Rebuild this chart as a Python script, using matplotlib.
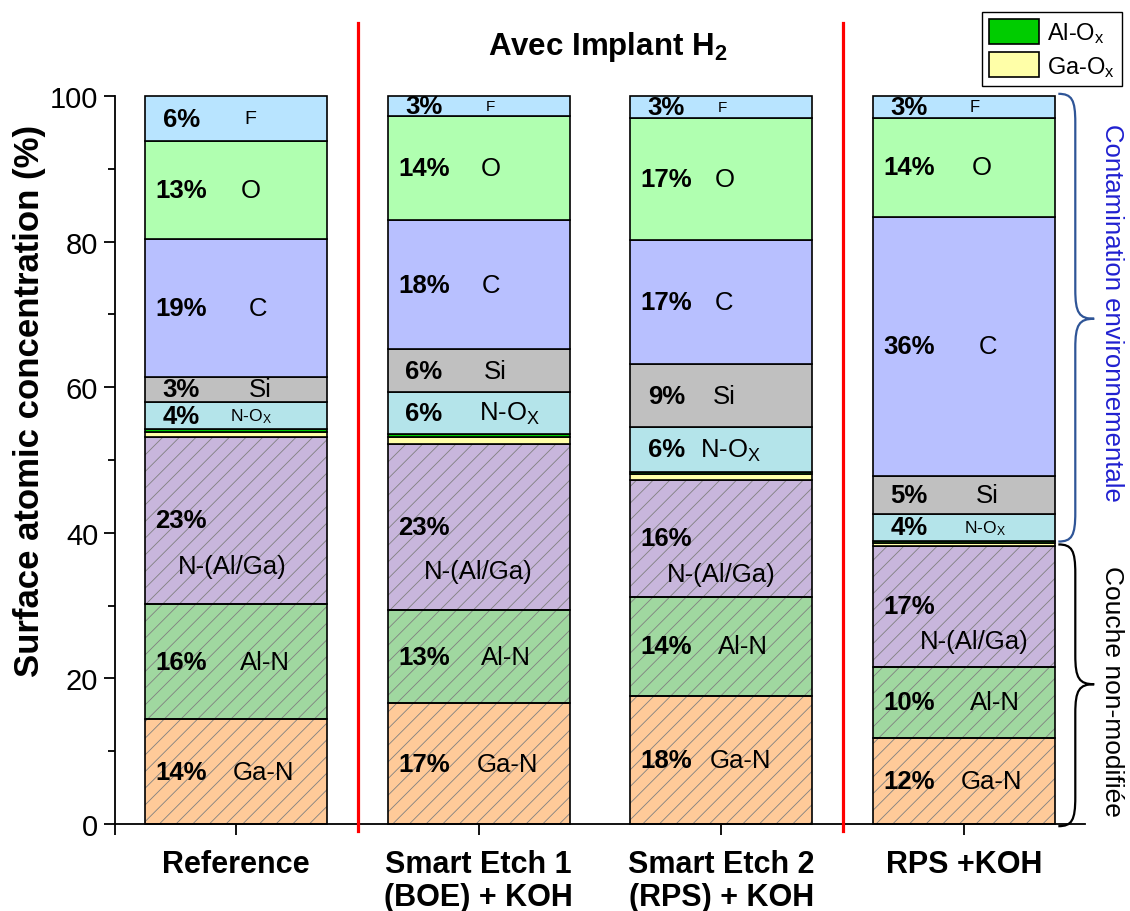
import matplotlib
matplotlib.use('Agg')
import matplotlib.pyplot as plt
from matplotlib.patches import Patch, PathPatch
from matplotlib.path import Path
from matplotlib.transforms import offset_copy

plt.rcParams['font.family'] = ['Liberation Sans', 'DejaVu Sans']
plt.rcParams['mathtext.fontset'] = 'custom'
plt.rcParams['mathtext.rm'] = 'Liberation Sans'
plt.rcParams['mathtext.bf'] = 'Liberation Sans:bold'
plt.rcParams['mathtext.it'] = 'Liberation Sans:italic'
plt.rcParams['hatch.linewidth'] = 0.6
plt.rcParams['hatch.color'] = '#808080'

# ---- data: XPS surface composition (%) ----
samples = ['Reference', 'Smart Etch 1\n(BOE) + KOH', 'Smart Etch 2\n(RPS) + KOH', 'RPS +KOH']

ga_n = [14.4, 16.6, 17.6, 11.8]
al_n = [15.8, 12.8, 13.6, 9.8]
n_alga = [23.0, 22.8, 16.1, 16.6]
ga_ox = [0.6, 1.0, 0.8, 0.4]
al_ox = [0.4, 0.4, 0.3, 0.3]
n_ox = [3.8, 5.7, 6.1, 3.7]
si = [3.4, 5.9, 8.7, 5.2]
carbon = [19.0, 17.8, 17.0, 35.6]
oxygen = [13.4, 14.3, 16.8, 13.6]
fluorine = [6.2, 2.7, 3.0, 3.0]

# stacking order, bottom to top
layers = [
    ('Ga-N', ga_n, '#FFCA99', True, 'Ga-N'),
    ('Al-N', al_n, '#A0D8A0', True, 'Al-N'),
    ('N-(Al/Ga)', n_alga, '#C8B6DC', True, 'N-(Al/Ga)'),
    ('Ga-Ox', ga_ox, '#FFFFA8', False, None),
    ('Al-Ox', al_ox, '#00CC00', False, None),
    ('N-Ox', n_ox, '#B4E4EA', False, r'N-O$_\mathregular{X}$'),
    ('Si', si, '#C0C0C0', False, 'Si'),
    ('C', carbon, '#B8C0FF', False, 'C'),
    ('O', oxygen, '#B0FFB0', False, 'O'),
    ('F', fluorine, '#B8E4FF', False, 'F'),
]

# horizontal offsets (pixels) of the element names from each bar centre
name_dx = {
    'F': [14, 12, 1, 11], 'O': [14, 12, 4, 18], 'C': [22, 12, 3, 24],
    'Si': [24, 17, 3, 24], 'N-Ox': [15, 31, 9, 21], 'N-(Al/Ga)': [-4, 0, 0, 10],
    'Al-N': [29, 27, 22, 31], 'Ga-N': [27, 29, 19, 28],
}
name_size = {'F': [14, 11, 11, 12], 'N-Ox': [12.5, 18.5, 18.5, 12.5]}
nalga_dy = [-46, -44, -36, -35]

fig = plt.figure(figsize=(11.3, 9.12), dpi=100)
ax = fig.add_axes([115 / 1130, 1 - 825 / 912, 970 / 1130, 728 / 912])

x = list(range(len(samples)))
width = 0.75
bottom = [0.0] * len(samples)
for name, vals, color, hatched, label in layers:
    if hatched:
        ax.bar(x, vals, width, bottom=bottom, color=color, edgecolor='#808080',
               hatch='//', linewidth=0, clip_on=False, zorder=2)
        ax.bar(x, vals, width, bottom=bottom, fill=False, edgecolor='black',
               linewidth=1.2, clip_on=False, zorder=3)
    else:
        ax.bar(x, vals, width, bottom=bottom, color=color, edgecolor='black',
               linewidth=1.2, clip_on=False, zorder=3)
    if label is not None:
        for i, v in enumerate(vals):
            yc = bottom[i] + v / 2
            tp = offset_copy(ax.transData, fig=fig, x=-55, y=0, units='dots')
            ax.text(i, yc, f'{round(v)}%', transform=tp, ha='center', va='center',
                    fontsize=18.5, fontweight='bold', zorder=5)
            dy = nalga_dy[i] if name == 'N-(Al/Ga)' else 0
            tn = offset_copy(ax.transData, fig=fig, x=name_dx[name][i], y=dy, units='dots')
            fs = name_size.get(name, [18.5] * 4)[i]
            ax.text(i, yc, label, transform=tn, ha='center', va='center',
                    fontsize=fs, zorder=5)
    bottom = [b + v for b, v in zip(bottom, vals)]

ax.set_xlim(-0.5, 3.5)
ax.set_ylim(0, 100)
ax.set_xticks(x)
ax.set_xticklabels(samples, fontsize=22, fontweight='bold', linespacing=1.15)
ax.set_xticks([-0.5], minor=True)
ax.set_yticks(range(0, 101, 20))
ax.set_yticks(range(10, 100, 20), minor=True)
ax.tick_params(axis='y', which='major', labelsize=21, length=8, width=1.3, pad=4)
ax.tick_params(axis='y', which='minor', length=5, width=1.3)
ax.tick_params(axis='x', which='both', length=8, width=1.3, pad=10)
for s in ('top', 'right'):
    ax.spines[s].set_visible(False)
for s in ('left', 'bottom'):
    ax.spines[s].set_linewidth(1.3)
ax.set_ylabel('Surface atomic concentration (%)', fontsize=25, fontweight='bold')
ax.yaxis.set_label_coords(-0.071, 0.582)

# separators around the implanted samples
for xs in (0.5, 2.5):
    ax.plot([xs, xs], [-1, 110], color='#FF0000', lw=2.3, clip_on=False, zorder=4)
ax.text(1.53, 106.8, r'Avec Implant H$_\mathbf{2}$', ha='center', va='center',
        fontsize=22.5, fontweight='bold')


def curly_brace(ax, x0, x1, x2, ytop, ybot, ymid, r, color):
    dx = x1 - x0
    verts = [
        (x0, ytop),
        (x0 + 0.8 * dx, ytop), (x1, ytop - 0.2 * r), (x1, ytop - r),
        (x1, ymid + r),
        (x1, ymid + 0.2 * r), (x1 + 0.2 * (x2 - x1), ymid), (x2, ymid),
        (x1 + 0.2 * (x2 - x1), ymid), (x1, ymid - 0.2 * r), (x1, ymid - r),
        (x1, ybot + r),
        (x1, ybot + 0.2 * r), (x0 + 0.8 * dx, ybot), (x0, ybot),
    ]
    codes = [Path.MOVETO, Path.CURVE4, Path.CURVE4, Path.CURVE4, Path.LINETO,
             Path.CURVE4, Path.CURVE4, Path.CURVE4, Path.CURVE4, Path.CURVE4,
             Path.CURVE4, Path.LINETO, Path.CURVE4, Path.CURVE4, Path.CURVE4]
    ax.add_patch(PathPatch(Path(verts, codes), fill=False, edgecolor=color,
                           lw=1.6, clip_on=False, zorder=4))


curly_brace(ax, 3.39, 3.46, 3.538, 100.3, 38.8, 69.4, 4.0, '#2F5597')
curly_brace(ax, 3.39, 3.46, 3.538, 38.4, -0.3, 19.2, 4.0, 'black')
ax.text(3.612, 70.3, 'Contamination environnementale', rotation=-90,
        ha='center', va='center', fontsize=18.5, color='#2020D0')
ax.text(3.612, 18.4, 'Couche non-modifiée', rotation=-90,
        ha='center', va='center', fontsize=19, color='black')

handles = [Patch(facecolor='#00CC00', edgecolor='black', linewidth=1.2),
           Patch(facecolor='#FFFFA8', edgecolor='black', linewidth=1.2)]
leg = fig.legend(handles, [r'Al-O$_\mathregular{x}$', r'Ga-O$_\mathregular{x}$'],
                 loc='upper right', bbox_to_anchor=(1122 / 1130, 1 - 13 / 912),
                 bbox_transform=fig.transFigure, fontsize=17, fancybox=False,
                 framealpha=1, edgecolor='black', handlelength=2.1,
                 handleheight=1.25, handletextpad=0.35, borderpad=0.3,
                 labelspacing=0.3, borderaxespad=0)
leg.get_frame().set_linewidth(1.0)

fig.savefig('out.png', dpi=100)
